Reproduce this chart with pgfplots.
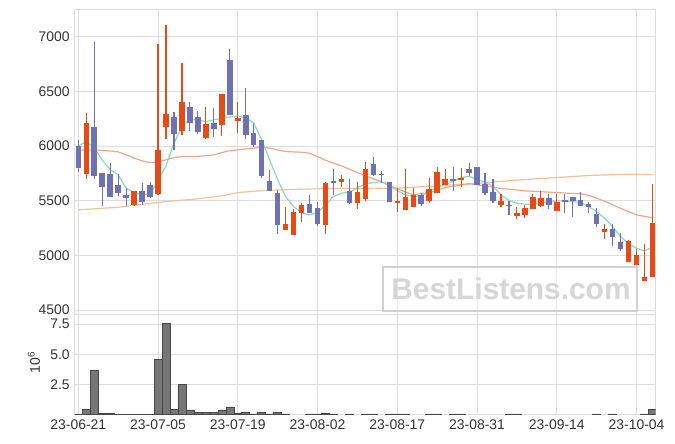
\documentclass[border=0pt]{standalone}
\usepackage{fontspec}
\setmainfont{Liberation Sans}
\usepackage{pgfplots}
\usepackage{pgfplotstable}
\pgfplotsset{compat=1.18}

\definecolor{cup}{RGB}{232,74,22}
\definecolor{cdown}{RGB}{110,114,178}
\definecolor{maA}{RGB}{140,218,188}
\definecolor{maB}{RGB}{240,166,138}
\definecolor{maC}{RGB}{245,192,150}
\definecolor{gridc}{RGB}{221,221,221}
\definecolor{volc}{RGB}{118,118,118}

% rising days: index, body low, body high, wick low, wick high
\pgfplotstableread{
i bl bh wl wh
1 5748 6208 5697 6300
7 5462 5587 5453 5587
10 5560 5964 5553 6933
11 6177 6293 6062 7107
13 6141 6403 6102 6757
16 6077 6202 6062 6355
18 6196 6476 6092 6476
20 6232 6260 6117 6400
26 5236 5288 5236 5441
27 5185 5398 5185 5422
28 5391 5462 5309 5477
31 5282 5663 5197 5672
33 5675 5697 5629 5736
35 5477 5581 5422 5675
36 5517 5788 5501 5852
40 5480 5498 5400 5614
41 5413 5532 5413 5791
42 5446 5550 5446 5620
44 5498 5605 5477 5706
45 5569 5761 5569 5806
46 5647 5697 5647 5788
48 5693 5711 5629 5797
53 5464 5498 5441 5562
55 5364 5391 5331 5446
56 5373 5434 5340 5462
57 5428 5535 5428 5562
58 5455 5526 5446 5587
60 5410 5492 5410 5562
66 5209 5242 5148 5288
69 4943 5133 4943 5142
70 4913 5005 4913 5057
71 4770 4801 4770 5105
72 4801 5300 4801 5654
}\upc

% falling days
\pgfplotstableread{
i bl bh wl wh
0 5803 6001 5766 6056
2 5730 6175 5697 6954
3 5629 5751 5453 5751
4 5538 5745 5532 5848
5 5574 5645 5544 5745
6 5528 5553 5455 5620
8 5492 5587 5462 5660
9 5538 5645 5523 5669
12 6113 6266 5964 6309
14 6208 6355 6138 6403
15 6132 6266 6111 6324
17 6154 6211 6081 6346
19 6287 6787 6287 6885
21 6102 6284 6062 6528
22 6010 6117 5995 6208
23 5730 6056 5706 6056
24 5592 5681 5592 5782
25 5282 5571 5194 5599
29 5391 5471 5391 5553
30 5291 5432 5270 5489
32 5663 5676 5553 5788
34 5477 5590 5468 5697
37 5733 5837 5727 5898
38 5733 5745 5666 5775
39 5489 5675 5489 5675
43 5468 5550 5455 5569
47 5684 5699 5590 5806
49 5757 5791 5727 5843
50 5645 5806 5645 5806
51 5574 5656 5550 5757
52 5501 5581 5477 5697
54 5450 5464 5370 5501
59 5459 5523 5425 5562
61 5490 5502 5386 5562
62 5498 5532 5349 5532
63 5455 5507 5455 5583
64 5446 5474 5386 5489
65 5288 5382 5263 5432
67 5172 5245 5081 5285
68 5060 5124 5044 5203
}\downc

% short moving average
\pgfplotstableread{
i v
0 6001
1 6040
2 5980
3 5873
4 5782
5 5736
6 5614
7 5574
8 5553
9 5558
10 5683
11 5820
12 6026
13 6177
14 6245
15 6239
16 6223
17 6239
18 6254
19 6263
20 6275
21 6260
22 6210
23 6056
24 5873
25 5690
26 5538
27 5446
28 5391
29 5370
30 5391
31 5462
32 5538
33 5569
34 5578
35 5620
36 5651
37 5666
38 5672
39 5651
40 5590
41 5555
42 5538
43 5545
44 5585
45 5625
46 5645
47 5678
48 5710
49 5723
50 5693
51 5670
52 5632
53 5553
54 5501
55 5477
56 5468
57 5468
58 5477
59 5489
60 5498
61 5498
62 5492
63 5483
64 5446
65 5400
66 5340
67 5263
68 5172
69 5105
70 5066
71 5041
72 5075
}\maa

% middle moving average
\pgfplotstableread{
i v
0 5964
2 5964
4 5955
5 5946
6 5919
7 5888
8 5864
9 5848
10 5857
11 5873
12 5894
13 5903
15 5905
16 5912
17 5919
18 5940
19 5958
20 5964
21 5973
23 5989
24 5980
25 5964
26 5949
28 5943
29 5934
30 5903
31 5870
32 5843
33 5818
34 5788
35 5757
36 5727
37 5699
38 5675
39 5635
40 5610
41 5580
42 5553
43 5565
44 5575
46 5620
49 5655
51 5635
53 5612
56 5590
60 5574
63 5562
64 5550
66 5495
68 5430
70 5370
72 5343
}\mab

% long moving average
\pgfplotstableread{
i v
0 5416
5 5440
11 5492
15 5517
18 5544
20 5574
23 5592
28 5605
32 5611
36 5612
40 5614
46 5640
50 5658
55 5688
60 5712
64 5730
69 5742
72 5739
}\mac

% volume, millions
\pgfplotstableread{
i v
0 0.03
1 0.44
2 3.67
3 0.10
4 0.10
5 0.02
6 0.02
7 0.02
8 0.02
9 0.02
10 4.58
11 7.58
12 0.44
13 2.50
14 0.36
15 0.19
16 0.19
17 0.19
18 0.36
19 0.61
20 0.11
21 0.19
22 0.04
23 0.19
24 0.04
25 0.19
26 0.03
29 0.03
30 0.03
31 0.12
32 0.03
34 0.03
36 0.03
37 0.03
39 0.03
40 0.03
41 0.03
44 0.03
45 0.03
47 0.03
48 0.03
54 0.03
55 0.03
65 0.03
67 0.03
71 0.03
72 0.44
}\vol

\pgfplotsset{
  panel/.style={
    scale only axis, width=581bp,
    xmin=-0.45, xmax=72.4,
    xtick={0,10,...,70},
    grid=major, grid style={gridc, line width=0.8bp},
    axis line style={gridc, line width=0.8bp},
    major tick length=0pt,
    tick label style={font=\fontsize{14}{16}\selectfont, text=black!80},
    /pgf/number format/assume math mode=true,
    /pgf/number format/set thousands separator={},
    yticklabel style={xshift=-1.5bp},
    xticklabel style={yshift=-2bp},
  },
  wick/.style={draw=none, mark=none, forget plot,
    error bars/.cd, y dir=plus, y explicit, error mark=none,
    error bar style={#1, line width=1.1bp}},
  body/.style={draw=none, mark=none, forget plot,
    error bars/.cd, y dir=plus, y explicit, error mark=none,
    error bar style={#1, line width=5.5bp}},
}

\begin{document}
\begin{tikzpicture}
\path[use as bounding box] (0,0) rectangle (675bp,444bp);

\begin{axis}[panel,
  at={(74.7bp,129.7bp)}, anchor=south west, height=305bp,
  ymin=4461, ymax=7250,
  ytick={4500,5000,...,7000},
  xticklabels={},
]
\addplot[maC, line width=1.2bp] table[x=i, y=v] {\mac};
\addplot[maB, line width=1.2bp] table[x=i, y=v] {\mab};
\addplot[maA, line width=1.2bp] table[x=i, y=v] {\maa};
\addplot[wick=cdown] table[x=i, y=wl, y error expr=\thisrow{wh}-\thisrow{wl}] {\downc};
\addplot[body=cdown] table[x=i, y=bl, y error expr=\thisrow{bh}-\thisrow{bl}] {\downc};
\addplot[wick=cup] table[x=i, y=wl, y error expr=\thisrow{wh}-\thisrow{wl}] {\upc};
\addplot[body=cup] table[x=i, y=bl, y error expr=\thisrow{bh}-\thisrow{bl}] {\upc};
\end{axis}

\begin{axis}[panel,
  at={(74.7bp,29.7bp)}, anchor=south west, height=100bp,
  ymin=0, ymax=8.33,
  ytick={2.5,5,7.5}, yticklabels={2.5,5.0,7.5},
  xticklabels={23-06-21,23-07-05,23-07-19,23-08-02,23-08-17,23-08-31,23-09-14,23-10-04},
]
\addplot[ybar, bar width=1, fill=volc, draw=black!72, line width=0.6bp]
  table[x=i, y=v] {\vol};
\end{axis}

\node[rotate=90, font=\fontsize{14}{16}\selectfont, text=black!80] at (34bp,81.5bp) {10\textsuperscript{6}};

\draw[black!18, line width=2bp, fill=white, fill opacity=0.5]
  (383bp,133bp) rectangle (637bp,177bp);
\node[font=\fontsize{30}{32}\bfseries, text=black!16] at (511bp,155bp) {BestListens.com};
\end{tikzpicture}
\end{document}
